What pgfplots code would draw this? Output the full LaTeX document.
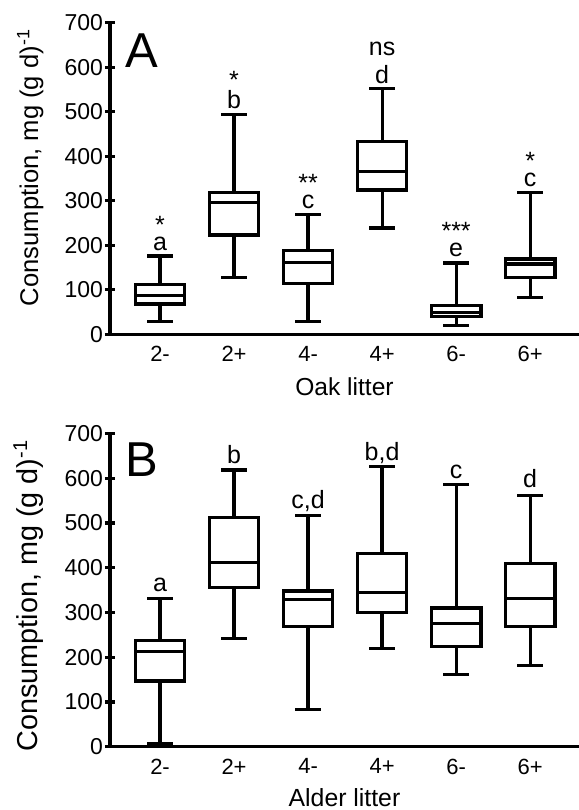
\documentclass[border=0pt]{standalone}
\usepackage{fontspec}
\setmainfont{Liberation Sans}
\usepackage{pgfplots}
\pgfplotsset{compat=1.18}
\usepgfplotslibrary{statistics}

\pgfplotsset{
  litter/.style={
    scale only axis, width=234.5pt, anchor=south west,
    xmin=-0.676, xmax=5.66, ymin=0, ymax=700,
    boxplot/draw direction=y,
    axis lines=left, axis line style={-, line width=1.6pt},
    xtick={0,...,5}, xticklabels={2-,2+,4-,4+,6-,6+},
    ytick={0,100,...,700},
    tick align=center, major tick length=5pt,
    tick style={line width=1.6pt, black},
    x tick style={draw=none},
    /pgf/number format/assume math mode=true,
    x tick label style={font=\fontsize{11}{12}\selectfont},
    y tick label style={font=\fontsize{11.5}{12}\selectfont, xshift=2.5pt},
    clip=false,
  },
  bx/.style={black, line width=1.6pt, solid, mark=none, line join=miter,
    boxplot/box extend=0.67, boxplot/whisker extend=0.35},
}
\newcommand{\lab}[3]{\node[anchor=base, inner sep=0pt, font=\fontsize{12.5}{14}\selectfont] at (axis cs:#1,#2) {#3};}
\newcommand{\sig}[3]{\node[anchor=north, inner sep=0pt, font=\fontsize{12.5}{14}\selectfont] at (axis cs:#1,#2) {#3};}

\begin{document}
\begin{tikzpicture}
\useasboundingbox (0,0) rectangle (289.5pt,405pt);

% A: oak litter
\begin{axis}[litter, at={(55pt,237.85pt)}, height=155.8pt,
    xlabel={Oak litter},
    ylabel={Consumption, mg (g d)\textsuperscript{-1}},
    xlabel style={at={(axis description cs:0.5,-0.167)}, anchor=center, font=\fontsize{12.3}{14}\selectfont},
    ylabel style={at={(axis description cs:-0.17,0.535)}, anchor=center, font=\fontsize{12.8}{14}\selectfont}]
  \addplot[bx, boxplot prepared={draw position=0, lower whisker=28, lower quartile=68, median=88, upper quartile=111, upper whisker=176}] coordinates {};
  \addplot[bx, boxplot prepared={draw position=1, lower whisker=128, lower quartile=223, median=296, upper quartile=318, upper whisker=493}] coordinates {};
  \addplot[bx, boxplot prepared={draw position=2, lower whisker=28, lower quartile=115, median=162, upper quartile=188, upper whisker=269}] coordinates {};
  \addplot[bx, boxplot prepared={draw position=3, lower whisker=239, lower quartile=324, median=365, upper quartile=433, upper whisker=552}] coordinates {};
  \addplot[bx, boxplot prepared={draw position=4, lower whisker=19, lower quartile=40, median=49, upper quartile=64, upper whisker=160}] coordinates {};
  \addplot[bx, boxplot prepared={draw position=5, lower whisker=82, lower quartile=127, median=158, upper quartile=169, upper whisker=318}] coordinates {};
  \lab{0}{189}{a}   \sig{0}{266}{*}
  \lab{1}{508}{b}   \sig{1}{592}{*}
  \lab{2}{283}{c}   \sig{2}{361}{**}
  \lab{3}{564}{d}   \lab{3}{627}{ns}
  \lab{4}{174}{e}   \sig{4}{252}{***}
  \lab{5}{333}{c}   \sig{5}{409}{*}
  \node[anchor=base west, inner sep=0pt, font=\fontsize{24.5}{28}\selectfont] at (axis cs:-0.475,600) {A};
\end{axis}

% B: alder litter
\begin{axis}[litter, at={(55pt,31.65pt)}, height=156.65pt,
    xlabel={Alder litter},
    ylabel={Consumption, mg (g d)\textsuperscript{-1}},
    xlabel style={at={(axis description cs:0.5,-0.162)}, anchor=center, font=\fontsize{12.4}{14}\selectfont},
    ylabel style={at={(axis description cs:-0.174,0.4826)}, anchor=center, font=\fontsize{14.4}{16}\selectfont}]
  \addplot[bx, boxplot prepared={draw position=0, lower whisker=7, lower quartile=147, median=212, upper quartile=237, upper whisker=331}] coordinates {};
  \addplot[bx, boxplot prepared={draw position=1, lower whisker=242, lower quartile=355, median=411, upper quartile=512, upper whisker=618}] coordinates {};
  \addplot[bx, boxplot prepared={draw position=2, lower whisker=84, lower quartile=268, median=329, upper quartile=348, upper whisker=516}] coordinates {};
  \addplot[bx, boxplot prepared={draw position=3, lower whisker=220, lower quartile=299, median=344, upper quartile=431, upper whisker=626}] coordinates {};
  \addplot[bx, boxplot prepared={draw position=4, lower whisker=161, lower quartile=223, median=276, upper quartile=310, upper whisker=586}] coordinates {};
  \addplot[bx, boxplot prepared={draw position=5, lower whisker=182, lower quartile=268, median=331, upper quartile=410, upper whisker=562}] coordinates {};
  \lab{0}{346}{a}
  \lab{1}{633}{b}
  \lab{2}{533}{c,d}
  \lab{3}{639}{b,d}
  \lab{4}{600}{c}
  \lab{5}{580}{d}
  \node[anchor=base west, inner sep=0pt, font=\fontsize{24.5}{28}\selectfont] at (axis cs:-0.475,603) {B};
\end{axis}
\end{tikzpicture}
\end{document}
